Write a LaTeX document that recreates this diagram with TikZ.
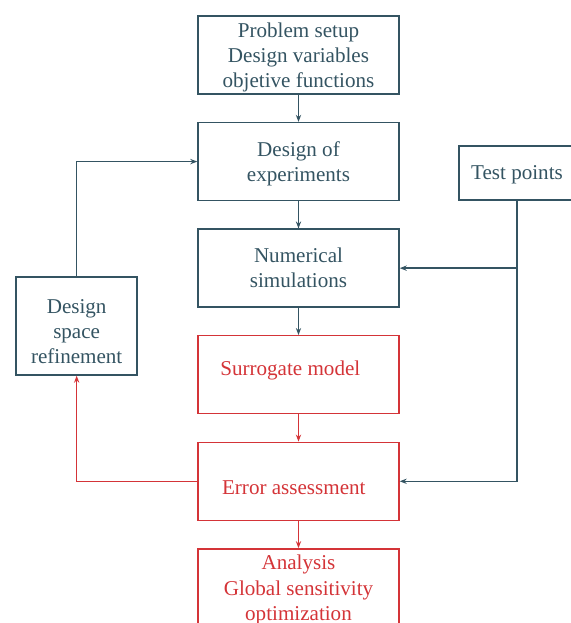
\documentclass[tikz,border=0pt]{standalone}
\usepackage{fontspec}
\setmainfont{Liberation Serif}
\usetikzlibrary{arrows.meta, positioning}
\definecolor{slate}{RGB}{52,84,98}
\definecolor{errred}{RGB}{212,52,56}

\begin{document}
\begin{tikzpicture}[
    node distance=0.815cm,
    stage/.style={rectangle, draw=slate, line width=1.2pt, text=slate, minimum width=6.03cm, minimum height=2.34cm, align=center, font=\fontsize{18}{21.5}\selectfont},
    redstage/.style={stage, draw=errred, text=errred},
    link/.style={draw=slate, line width=1.2pt, -{Stealth[length=6pt,width=4.5pt]}},
    redlink/.style={link, draw=errred},
]
    \useasboundingbox (0,0) rectangle (17.13,-18.69);
    \clip (0,0) rectangle (17.13,-18.69);

    \node[stage, text depth=-2pt] (setup) at (8.955,-1.65) {Problem setup\\Design variables\\objetive functions};
    \node[stage, below=of setup, text depth=0.5pt] (doe) {Design of\\experiments};
    \node[stage, below=of doe] (sim) {Numerical\\simulations};
    \node[redstage, below=of sim, text depth=11pt] (surr) {Surrogate model\hspace*{14pt}};
    \node[redstage, below=of surr, text height=23pt] (err) {Error assessment\hspace*{8pt}};
    \node[redstage, below=of err, text depth=-1pt] (anal) {Analysis\\Global sensitivity\\optimization};

    \node[stage, minimum width=3.48cm, minimum height=1.62cm, text depth=-3pt] (test) at (15.51,-5.19) {Test points};
    \node[stage, minimum width=3.63cm, minimum height=2.94cm, text height=64pt] (refine) at (2.3,-9.78) {Design\\space\\refinement};

    \draw[link] (setup) -- (doe);
    \draw[link] (doe) -- (sim);
    \draw[link] (sim) -- (surr);
    \draw[redlink] (surr) -- (err);
    \draw[redlink] (err) -- (anal);

    \draw[link] (test.south) |- (sim.east);
    \draw[link] (test.south) |- (err.east);
    \draw[redlink] (err.west) -| (refine.south);
    \draw[link] (refine.north) |- (doe.west);
\end{tikzpicture}
\end{document}
